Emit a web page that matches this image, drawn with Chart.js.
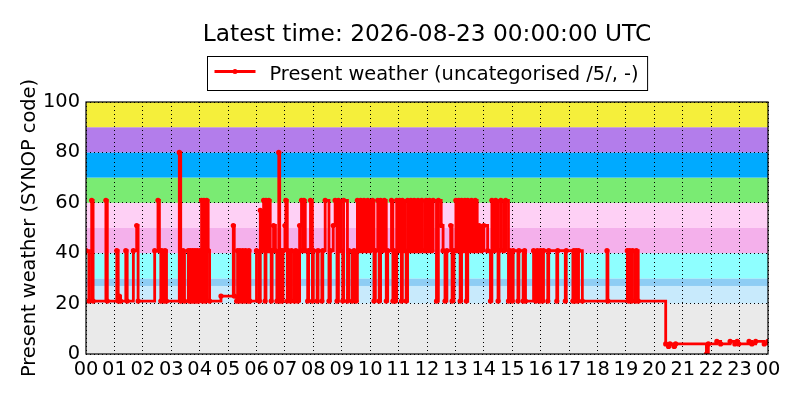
<!DOCTYPE html>
<html>
<head>
<meta charset="utf-8">
<script src="https://cdn.jsdelivr.net/npm/chart.js@4.4.1/dist/chart.umd.min.js"></script>
<style>
  html, body { margin: 0; padding: 0; background: #fff; }
</style>
</head>
<body>
<canvas id="synop" width="800" height="400"></canvas>
<script>
// Present weather observations (time UTC, SYNOP ww code)
const obsTimes = [
  "00:00", "00:06", "00:12", "00:15", "00:42", "00:45", "01:05", "01:08", "01:10", "01:13",
  "01:24", "01:27", "01:40", "01:47", "01:50", "02:25", "02:32", "02:35", "02:38", "02:40",
  "02:45", "02:47", "02:50", "03:17", "03:20", "03:25", "03:28", "03:36", "03:38", "03:40",
  "03:43", "03:45", "03:48", "03:50", "03:53", "03:55", "03:58", "04:01", "04:04", "04:06",
  "04:09", "04:12", "04:15", "04:18", "04:21", "04:45", "05:11", "05:13", "05:18", "05:20",
  "05:23", "05:25", "05:29", "05:31", "05:35", "05:37", "05:42", "05:44", "05:46", "06:00",
  "06:06", "06:08", "06:11", "06:15", "06:18", "06:20", "06:24", "06:26", "06:29", "06:31",
  "06:33", "06:36", "06:40", "06:43", "06:47", "06:49", "06:52", "06:54", "06:56", "07:00",
  "07:02", "07:05", "07:07", "07:12", "07:14", "07:20", "07:23", "07:27", "07:31", "07:35",
  "07:37", "07:40", "07:43", "07:48", "07:50", "07:54", "07:58", "08:00", "08:08", "08:10",
  "08:18", "08:20", "08:25", "08:33", "08:36", "08:42", "08:46", "08:50", "08:53", "08:58",
  "09:02", "09:04", "09:12", "09:15", "09:22", "09:26", "09:30", "09:33", "09:37", "09:40",
  "09:44", "09:47", "09:52", "09:55", "10:00", "10:05", "10:08", "10:11", "10:16", "10:19",
  "10:22", "10:26", "10:30", "10:34", "10:37", "10:45", "10:48", "10:50", "10:53", "10:56",
  "11:00", "11:02", "11:06", "11:08", "11:13", "11:16", "11:19", "11:24", "11:26", "11:30",
  "11:33", "11:38", "11:41", "11:46", "11:49", "11:55", "11:58", "12:02", "12:05", "12:10",
  "12:13", "12:20", "12:24", "12:30", "12:34", "12:38", "12:42", "12:50", "12:53", "12:57",
  "13:01", "13:04", "13:07", "13:10", "13:13", "13:17", "13:20", "13:23", "13:26", "13:30",
  "13:34", "13:38", "13:42", "13:46", "13:50", "13:55", "14:00", "14:08", "14:14", "14:17",
  "14:22", "14:25", "14:30", "14:32", "14:36", "14:42", "14:46", "14:52", "14:55", "15:00",
  "15:02", "15:12", "15:14", "15:23", "15:26", "15:28", "15:45", "15:50", "15:53", "15:58",
  "16:00", "16:04", "16:06", "16:15", "16:17", "16:34", "16:36", "16:52", "16:54", "17:08",
  "17:10", "17:12", "17:15", "17:18", "17:20", "17:28", "18:20", "18:22", "19:03", "19:06",
  "19:08", "19:12", "19:14", "19:20", "19:22", "19:26", "20:24", "20:30", "20:33", "20:42",
  "20:45", "21:50", "21:54", "22:12", "22:20", "22:40", "22:50", "22:55", "22:58", "23:20",
  "23:26", "23:34", "23:52", "24:00"
];
const obsCodes = [
  41, 21, 61, 21, 61, 21, 41, 21, 23, 21,
  41, 21, 41, 51, 21, 41, 61, 41, 21, 41,
  21, 41, 21, 80, 21, 41, 21, 41, 21, 41,
  21, 41, 21, 41, 21, 41, 21, 41, 61, 21,
  61, 21, 61, 41, 21, 23, 51, 23, 21, 41,
  21, 41, 21, 41, 21, 41, 21, 41, 21, 41,
  21, 57, 41, 61, 21, 61, 41, 61, 41, 21,
  41, 51, 41, 21, 80, 21, 41, 21, 41, 51,
  61, 21, 41, 21, 41, 21, 41, 21, 51, 61,
  41, 61, 41, 21, 41, 61, 21, 41, 21, 41,
  21, 41, 61, 21, 41, 51, 61, 21, 61, 41,
  21, 61, 21, 41, 21, 41, 21, 61, 41, 61,
  41, 61, 41, 61, 41, 61, 21, 41, 61, 21,
  61, 41, 61, 21, 41, 61, 21, 41, 21, 61,
  41, 61, 21, 61, 41, 21, 61, 41, 61, 41,
  61, 41, 61, 41, 61, 41, 61, 41, 61, 41,
  61, 21, 61, 51, 41, 21, 41, 51, 21, 41,
  61, 41, 61, 21, 61, 41, 61, 21, 61, 41,
  61, 41, 61, 41, 51, 41, 51, 41, 21, 61,
  41, 61, 21, 41, 61, 41, 61, 21, 41, 21,
  41, 21, 41, 21, 41, 21, 41, 21, 41, 21,
  41, 21, 41, 21, 41, 21, 41, 21, 41, 21,
  41, 21, 41, 21, 41, 21, 41, 21, 41, 21,
  41, 21, 41, 21, 41, 21, 4, 3, 4, 3,
  4, 0, 4, 5, 4, 5, 4, 5, 4, 5,
  4, 5, 4, 5
];

// Background bands of the SYNOP code groups
const bandEdges = [0, 20, 27, 30, 40, 50, 60, 70, 80, 90, 100];
const bandColors = [
  "#eaeaea", "#c8eafc", "#8ecdf4", "#8effff", "#f4b0eb",
  "#fed0f5", "#7aeb73", "#00aaff", "#b37deb", "#f5ef3b"
];

const titleText = "Latest time: 2026-08-23 00:00:00 UTC";
const seriesLabel = "Present weather (uncategorised /5/, -)";

const FONT = "'DejaVu Sans', 'Liberation Sans', sans-serif";
const TEXT_SIZE = 19.4;
Chart.defaults.font.family = FONT;
Chart.defaults.font.size = TEXT_SIZE;
Chart.defaults.color = "#000";

function toHours(t) {
    const [h, m] = t.split(":").map(Number);
    return h + m / 60;
}

const points = obsTimes.map((t, i) => ({ x: toHours(t), y: obsCodes[i] }));

const bandPlugin = {
    id: "bands",
    beforeDraw(chart) {
        const { ctx, chartArea: a, scales: { y } } = chart;
        ctx.save();
        ctx.fillStyle = "#fff";
        ctx.fillRect(0, 0, chart.width, chart.height);
        for (let i = 0; i < bandColors.length; i++) {
            const top = y.getPixelForValue(bandEdges[i + 1]);
            const bot = y.getPixelForValue(bandEdges[i]);
            ctx.fillStyle = bandColors[i];
            ctx.fillRect(a.left, top, a.right - a.left, bot - top);
        }
        ctx.restore();
    },
    afterDraw(chart) {
        const { ctx, chartArea: a } = chart;
        const cx = (a.left + a.right) / 2;
        ctx.save();
        // frame
        ctx.strokeStyle = "#000";
        ctx.lineWidth = 1.2;
        ctx.strokeRect(a.left, a.top, a.right - a.left, a.bottom - a.top);

        // title
        ctx.fillStyle = "#000";
        ctx.font = "23.3px " + FONT;
        ctx.textAlign = "center";
        ctx.textBaseline = "middle";
        ctx.fillText(titleText, cx, 35);

        // legend box
        ctx.font = TEXT_SIZE + "px " + FONT;
        const label = chart.data.datasets[0].label;
        const tw = ctx.measureText(label).width;
        const boxW = 7 + 41 + 14 + tw + 9;
        const bx = Math.round(cx - boxW / 2) + 0.5;
        const by = 56.5, bh = 34;
        ctx.fillStyle = "#fff";
        ctx.fillRect(bx, by, boxW, bh);
        ctx.lineWidth = 1;
        ctx.strokeRect(bx, by, boxW, bh);
        const ly = by + bh / 2 - 2;
        ctx.strokeStyle = "#ff0000";
        ctx.lineWidth = 2.8;
        ctx.beginPath();
        ctx.moveTo(bx + 7, ly);
        ctx.lineTo(bx + 48, ly);
        ctx.stroke();
        ctx.fillStyle = "#ff0000";
        ctx.beginPath();
        ctx.arc(bx + 27.5, ly, 2.5, 0, Math.PI * 2);
        ctx.fill();
        ctx.fillStyle = "#000";
        ctx.textAlign = "left";
        ctx.fillText(label, bx + 62, by + bh / 2 + 1);
        ctx.restore();
    }
};

new Chart(document.getElementById("synop"), {
    type: "line",
    data: {
        datasets: [{
            label: seriesLabel,
            data: points,
            stepped: true,
            borderColor: "#ff0000",
            backgroundColor: "#ff0000",
            borderWidth: 2.8,
            pointRadius: 2.6,
            pointBorderWidth: 0,
            pointBackgroundColor: "#ff0000",
            fill: false
        }]
    },
    options: {
        responsive: false,
        animation: false,
        layout: { padding: { top: 102, right: 32, left: 0, bottom: 0 } },
        plugins: {
            legend: { display: false },
            title: { display: false },
            tooltip: { enabled: false }
        },
        scales: {
            x: {
                type: "linear",
                min: 0,
                max: 24,
                afterFit: s => { s.height = 46; },
                ticks: {
                    stepSize: 1,
                    autoSkip: false,
                    maxRotation: 0,
                    padding: 4,
                    callback: v => String(v % 24).padStart(2, "0")
                },
                grid: { color: "#000", lineWidth: 1, drawTicks: false },
                border: { display: false, dash: [1, 3] }
            },
            y: {
                min: 0,
                max: 100,
                afterFit: s => { s.width = 86; },
                ticks: { stepSize: 20, padding: 6 },
                grid: { color: "#000", lineWidth: 1, drawTicks: false },
                border: { display: false, dash: [1, 3] },
                title: {
                    display: true,
                    text: "Present weather (SYNOP code)",
                    font: { size: TEXT_SIZE },
                    padding: { top: 18, bottom: 0 }
                }
            }
        }
    },
    plugins: [bandPlugin]
});
</script>
</body>
</html>
